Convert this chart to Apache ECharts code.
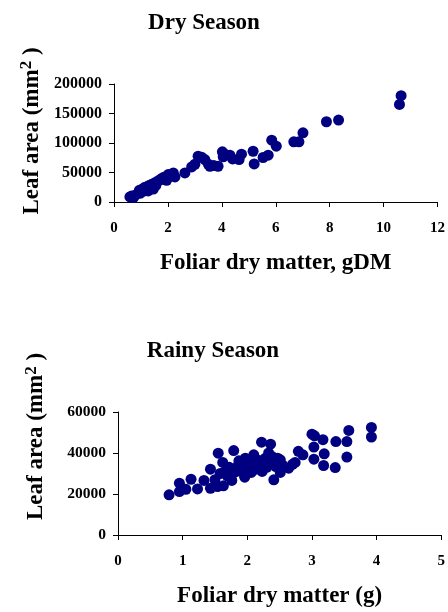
<!DOCTYPE html>
<html>
<head>
<meta charset="utf-8">
<script src="https://cdn.jsdelivr.net/npm/echarts@6/dist/echarts.min.js"></script>
<style>
	html, body { margin: 0; padding: 0; background: #fff; }
	#chart { width: 448px; height: 612px; }
</style>
</head>
<body>
<div id="chart"></div>
<script>
	// Dry season: foliar dry matter (gDM) vs leaf area (mm2)
	var dryMatter = [0.59, 0.65, 0.72, 0.8, 0.94, 0.98, 1.05, 1.1, 1.15, 1.22, 1.27, 1.3, 1.35, 1.4, 1.46,
		1.5, 1.55, 1.58, 1.65, 1.72, 1.77, 1.85, 1.95, 2.01, 2.1, 2.2, 2.26, 2.63, 2.88, 3.0, 3.12, 3.25,
		3.37, 3.5, 3.56, 3.7, 3.86, 4.02, 4.05, 4.15, 4.3, 4.4, 4.64, 4.73, 5.16, 5.2, 5.53, 5.72, 5.85,
		6.02, 6.67, 6.86, 7.01, 7.88, 8.33, 10.59, 10.65];
	var dryArea = [8500, 10000, 7500, 12000, 19800, 15000, 22000, 18500, 25000, 22000, 18700, 28000, 26000, 30000, 22000,
		32000, 28000, 34000, 36000, 38000, 39700, 42000, 36800, 46500, 44000, 49300, 42500, 49300, 59500, 64000, 77600, 76000,
		72000, 64000, 60600, 62000, 60600, 85000, 76500, 80000, 79300, 73000, 72000, 81000, 86000, 64600, 75400, 79300, 104800,
		94600, 102000, 102000, 117300, 136000, 138800, 165400, 180200];

	// Rainy season: foliar dry matter (g) vs leaf area (mm2)
	var rainyMatter = [0.79, 0.95, 0.95, 1.05, 1.13, 1.23, 1.33, 1.43, 1.43, 1.5, 1.54, 1.55, 1.58, 1.62, 1.63,
		1.66, 1.69, 1.72, 1.76, 1.79, 1.8, 1.85, 1.87, 1.9, 1.93, 1.96, 1.97, 2.0, 2.03, 2.06, 2.1, 2.12,
		2.13, 2.17, 2.2, 2.22, 2.23, 2.26, 2.28, 2.3, 2.33, 2.36, 2.38, 2.4, 2.41, 2.44, 2.47, 2.51, 2.51,
		2.55, 2.64, 2.7, 2.74, 2.79, 2.86, 3.0, 3.03, 3.03, 3.04, 3.17, 3.18, 3.19, 3.36, 3.37, 3.54, 3.54,
		3.57, 3.92, 3.92];
	var rainyArea = [19600, 25300, 21200, 22300, 27200, 22500, 26600, 22800, 32100, 27000, 23600, 39900, 30000, 35400, 24000,
		31000, 28900, 33000, 26600, 41200, 30500, 33500, 36200, 31000, 34500, 28200, 37500, 33000, 35500, 30500, 39100, 34500,
		32100, 36500, 33500, 45300, 31000, 35000, 37500, 33000, 40000, 44300, 38300, 35500, 26900, 33400, 37500, 30500, 36700,
		34000, 32600, 34500, 35400, 40800, 39100, 49200, 37000, 42900, 48400, 46500, 33900, 39600, 32900, 45600, 45600, 38000,
		51000, 52500, 47800];

	// [min, max, interval]
	var dryTicksX = [0, 12, 2];
	var dryTicksY = [0, 200000, 50000];
	var rainyTicksX = [0, 5, 1];
	var rainyTicksY = [0, 60000, 20000];

	var FONT = '"Liberation Serif", "Times New Roman", serif';
	var DOT = '#000080';

	function pairUp(xs, ys) {
		var out = [];
		for (var i = 0; i < xs.length; i++) {
			out.push([xs[i], ys[i]]);
		}
		return out;
	}

	function valueAxis(idx, ticks, name, nameGap, labelMargin, labelSize) {
		return {
			type: 'value',
			gridIndex: idx,
			min: ticks[0],
			max: ticks[1],
			interval: ticks[2],
			name: name,
			nameLocation: 'middle',
			nameGap: nameGap,
			nameTextStyle: {
				fontFamily: FONT,
				fontWeight: 'bold',
				fontSize: 23,
				color: '#000'
			},
			splitLine: { show: false },
			axisLine: { show: true, onZero: false, lineStyle: { color: '#000', width: 1 } },
			axisTick: { show: true, inside: false, length: 5, lineStyle: { color: '#000' } },
			axisLabel: {
				margin: labelMargin,
				fontFamily: FONT,
				fontWeight: 'bold',
				fontSize: labelSize || 15,
				color: '#000',
				// plain numbers, no thousands separator
				formatter: function (v) {
					return String(v);
				}
			}
		};
	}

	// y axis name with raised "2"
	function leafName(axis, shiftUp) {
		axis.name = '{a|Leaf area (mm}{s|2}{a| )}';
		axis.nameRotate = 90;
		axis.nameTextStyle = {
			padding: [0, 0, 0, shiftUp * 2],
			rich: {
				a: { fontFamily: FONT, fontWeight: 'bold', fontSize: 23, lineHeight: 27, color: '#000' },
				s: { fontFamily: FONT, fontWeight: 'bold', fontSize: 17, lineHeight: 17, verticalAlign: 'top', color: '#000' }
			}
		};
		return axis;
	}

	var chart = echarts.init(document.getElementById('chart'), null, { renderer: 'canvas' });

	var option = {
		animation: false,
		backgroundColor: '#fff',
		title: [
			{
				text: 'Dry Season',
				left: 199,
				top: 7,
				textAlign: 'center',
				textStyle: { fontFamily: FONT, fontWeight: 'bold', fontSize: 23, color: '#000' }
			},
			{
				text: 'Rainy Season',
				left: 208,
				top: 335,
				textAlign: 'center',
				textStyle: { fontFamily: FONT, fontWeight: 'bold', fontSize: 23, color: '#000' }
			}
		],
		grid: [
			{ left: 114, right: 10, top: 84, height: 118 },
			{ left: 118, right: 5, top: 412, height: 123 }
		],
		xAxis: [
			valueAxis(0, dryTicksX, 'Foliar dry matter, gDM', 50, 19),
			valueAxis(1, rainyTicksX, 'Foliar dry matter (g)', 50, 19)
		],
		yAxis: [
			leafName(valueAxis(0, dryTicksY, '', 68, 12, 16), 12),
			leafName(valueAxis(1, rainyTicksY, '', 68, 12, 15.5), 37)
		],
		series: [
			{
				type: 'scatter',
				xAxisIndex: 0,
				yAxisIndex: 0,
				symbol: 'circle',
				symbolSize: 11,
				itemStyle: { color: DOT, opacity: 1 },
				data: pairUp(dryMatter, dryArea)
			},
			{
				type: 'scatter',
				xAxisIndex: 1,
				yAxisIndex: 1,
				symbol: 'circle',
				symbolSize: 11,
				itemStyle: { color: DOT, opacity: 1 },
				data: pairUp(rainyMatter, rainyArea)
			}
		]
	};

	chart.setOption(option);
</script>
</body>
</html>
